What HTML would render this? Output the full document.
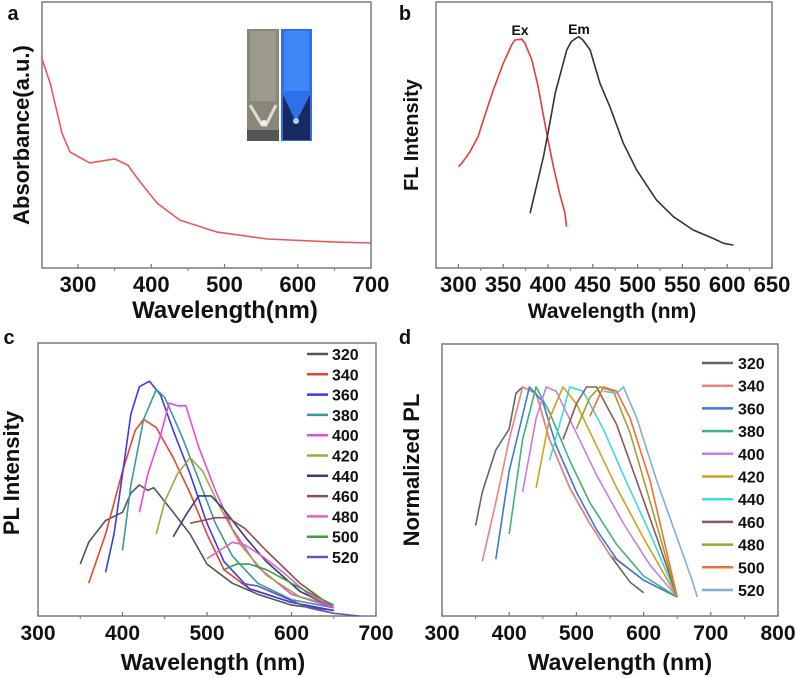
<!DOCTYPE html>
<html><head><meta charset="utf-8"><style>
html,body{margin:0;padding:0;background:#fff;}
svg{display:block;font-family:"Liberation Sans",Arial,sans-serif;font-weight:bold;}
</style></head><body>
<svg id="fig" width="797" height="678" viewBox="0 0 797 678" xmlns="http://www.w3.org/2000/svg"></svg>
<script>
// ---- Panel a data ----
const aWl  = [250,262,278,289,316,350,368,385,408,439,490,558,648,700];
const aAbs = [0.793,0.695,0.508,0.436,0.395,0.41,0.387,0.323,0.244,0.180,0.135,0.109,0.098,0.094];
const aTicks = [300,400,500,600,700];
// ---- Panel b data ----
const exWl  = [300,303.6,313,322,331.5,339,350,359.5,363,370.6,374,382,389,398.5,406,413,419,420.8];
const exInt = [0.381,0.393,0.437,0.494,0.594,0.669,0.769,0.839,0.857,0.860,0.847,0.782,0.682,0.506,0.381,0.281,0.206,0.155];
const emWl  = [380,387,395,402,408,413,421,426,434,439,447,458,469,484,499,521,540,562,584.5,596,607];
const emInt = [0.206,0.306,0.419,0.544,0.657,0.719,0.820,0.851,0.870,0.857,0.820,0.694,0.607,0.469,0.368,0.256,0.193,0.143,0.111,0.093,0.086];
const bTicks = [300,350,400,450,500,550,600,650];
// ---- Panel c data ----
const exLabels = ["320","340","360","380","400","420","440","460","480","500","520"];
const cWl = [
 [350,360,380,400,410,420,430,437,460,480,500,530,560,600,650],
 [360,380,400,415,425,440,460,480,500,520,550,600,650],
 [380,390,400,410,420,432,445,460,480,500,520,550,600,650],
 [400,410,425,440,450,470,490,510,530,560,600,650],
 [420,430,445,455,465,475,490,510,530,560,600,650],
 [440,450,465,480,495,515,540,570,610,650],
 [460,475,490,505,520,545,570,610,650],
 [480,495,510,525,545,570,610,650],
 [500,515,530,545,565,590,620,650],
 [520,535,550,570,600,630,650],
 [540,560,590,620,650,680]
];
const cInt = [
 [0.19,0.27,0.35,0.38,0.45,0.48,0.46,0.47,0.38,0.30,0.19,0.12,0.08,0.04,0.02],
 [0.12,0.30,0.53,0.68,0.72,0.69,0.58,0.45,0.30,0.17,0.10,0.05,0.02],
 [0.16,0.30,0.52,0.74,0.84,0.86,0.81,0.68,0.52,0.34,0.20,0.10,0.05,0.02],
 [0.24,0.48,0.72,0.83,0.80,0.66,0.50,0.34,0.22,0.12,0.06,0.03],
 [0.38,0.52,0.66,0.78,0.77,0.77,0.62,0.46,0.32,0.18,0.08,0.03],
 [0.30,0.42,0.52,0.58,0.53,0.40,0.26,0.15,0.07,0.04],
 [0.29,0.37,0.44,0.44,0.39,0.29,0.20,0.09,0.03],
 [0.34,0.35,0.36,0.36,0.32,0.24,0.12,0.03],
 [0.21,0.24,0.27,0.26,0.22,0.16,0.08,0.03],
 [0.17,0.19,0.19,0.17,0.12,0.07,0.04],
 [0.12,0.11,0.07,0.03,0.01,0.00]
];
const cColors = ["#555555","#e8452f","#3c3ce6","#3a9a9a","#e64ae6","#a3a345","#3c3c7c","#904c4c","#e060c4","#3ca03c","#5a5ab4"];
const cTicks = [300,400,500,600,700];
// ---- Panel d data ----
const dWl = [
 [350,360,380,400,410,420,440,460,490,520,550,580,600],
 [360,380,400,420,440,460,490,520,550,600,650],
 [380,400,430,450,470,500,530,560,600,650],
 [400,420,440,460,490,520,560,600,650],
 [420,440,455,470,500,530,570,610,650],
 [440,460,480,500,530,560,600,650],
 [460,480,490,510,540,570,610,650],
 [480,500,515,530,560,590,620,650],
 [500,520,535,555,580,610,650],
 [520,540,560,580,610,650],
 [540,560,570,590,620,650,670,680]
];
const dInt = [
 [0.34,0.50,0.70,0.80,0.97,1.0,0.97,0.75,0.52,0.35,0.20,0.07,0.02],
 [0.17,0.45,0.75,1.0,0.97,0.75,0.52,0.35,0.20,0.08,0.0],
 [0.18,0.60,1.0,0.93,0.72,0.50,0.32,0.18,0.08,0.0],
 [0.30,0.75,1.0,0.88,0.65,0.45,0.25,0.10,0.0],
 [0.50,0.85,1.0,0.98,0.78,0.58,0.35,0.15,0.0],
 [0.52,0.85,1.0,0.92,0.72,0.52,0.28,0.0],
 [0.65,0.88,1.0,0.98,0.80,0.58,0.30,0.0],
 [0.75,0.92,1.0,1.0,0.82,0.55,0.28,0.0],
 [0.80,0.95,1.0,0.98,0.78,0.45,0.0],
 [0.86,1.0,0.98,0.85,0.55,0.0],
 [0.98,0.97,1.0,0.85,0.55,0.28,0.10,0.0]
];
const dColors = ["#666666","#f08080","#3a7ad8","#40b080","#c080e0","#d0a020","#40d8d8","#8a5a5a","#a0a030","#f07030","#80b0d8"];
const dTicks = [300,400,500,600,700,800];

const NS="http://www.w3.org/2000/svg";
const svg=document.getElementById('fig');
function mk(tag,attrs,parent){const e=document.createElementNS(NS,tag);for(const k in attrs)e.setAttribute(k,attrs[k]);(parent||svg).appendChild(e);return e;}
function lin(d0,d1,r0,r1){return v=>r0+(v-d0)*(r1-r0)/(d1-d0);}

function frame(g,x0,y0,x1,y1,xs,ticks,minor,fs){
  const r=mk('rect',{x:x0,y:y0,width:x1-x0,height:y1-y0,fill:'none',stroke:'#7a7a7a','stroke-width':1.5},g);
  
  
  ticks.forEach(t=>{
    const x=xs(t);
    const l=mk('line',{x1:x,x2:x,y1:y1,y2:y1-4,stroke:'#777','stroke-width':1.2},g);
    
    
    const tx=mk('text',{x:x,y:y1+24,'text-anchor':'middle','font-size':fs,fill:'#111'},g);
    tx.textContent=t;
    
    
  });
  minor.forEach(t=>{
    const x=xs(t);
    const l=mk('line',{x1:x,x2:x,y1:y1,y2:y1+3,stroke:'#777','stroke-width':1},g);
    
    
  });
}
function series(g,wl,val,xs,ys,color,name){
  const p=mk('polyline',{points:wl.map((w,i)=>xs(w).toFixed(1)+','+ys(val[i]).toFixed(1)).join(' '),fill:'none',stroke:color,'stroke-width':1.6,'stroke-linejoin':'round'},g);
  
  
}
function label(g,txt,x,y,size,rot,name,anchor){
  const t=mk('text',{x:x,y:y,'font-size':size,fill:'#111','text-anchor':anchor||'middle'},g);
  if(rot)t.setAttribute('transform','rotate(-90 '+x+' '+y+')');
  t.textContent=txt;
  
  
}

// Panel a
const ga=mk('g',{});


const axs=lin(250,700,41.4,371), ays=lin(0,1,268,2);
frame(ga,42,2,371,268,axs,aTicks,[350,450,550,650],22);
series(ga,aWl,aAbs,axs,ays,'#e85a5a','absorbance-line');
label(ga,'a',13,20,20,false,'panel-label-a');
label(ga,'Wavelength(nm)',225,318,24,false,'x-axis-title');
label(ga,'Absorbance(a.u.)',29,135,22,true,'y-axis-title');
const ph=mk('g',{},ga);


mk('rect',{x:247,y:29,width:32,height:112,fill:'#8a8778'},ph);
mk('rect',{x:250,y:31,width:26,height:70,fill:'#9c9a8c'},ph);
mk('path',{d:'M250 105 L262 125 L266 125 L276 105',fill:'none',stroke:'#ddd','stroke-width':3},ph);
mk('circle',{cx:264,cy:123,r:3,fill:'#eee'},ph);
mk('rect',{x:247,y:130,width:32,height:11,fill:'#555'},ph);
mk('rect',{x:281,y:29,width:31,height:112,fill:'#2f6fe8'},ph);
mk('rect',{x:284,y:31,width:25,height:60,fill:'#3d86f5'},ph);
mk('path',{d:'M283 95 L296 122 L310 95 L310 140 L283 140Z',fill:'#1a2a60'},ph);
mk('circle',{cx:296,cy:121,r:3,fill:'#9fd0ff'},ph);

// Panel b
const gb=mk('g',{});


const bxs=lin(275,650,436,772), bys=lin(0,1,268,2);
frame(gb,436,2,772,268,bxs,bTicks,[325,375,425,475,525,575,625],22);
series(gb,exWl,exInt,bxs,bys,'#e83a3a','excitation-line');
series(gb,emWl,emInt,bxs,bys,'#333333','emission-line');
label(gb,'b',405,20,20,false,'panel-label-b');
label(gb,'Ex',520,35,14,false,'ex-label');
label(gb,'Em',579,34,14,false,'em-label');
label(gb,'Wavelength (nm)',612,318,21,false,'x-axis-title');
label(gb,'FL Intensity',418,135,20,true,'y-axis-title');

// Panel c
const gc=mk('g',{});


const cxs=lin(300,700,38,376), cys=lin(0,1,616,343);
frame(gc,38,343,376,616,cxs,cTicks,[350,450,550,650],21);
cWl.forEach((w,i)=>series(gc,w,cInt[i],cxs,cys,cColors[i],'pl-line-'+exLabels[i]));
exLabels.forEach((lab,i)=>{
  const y=354+i*20.3;
  const l=mk('line',{x1:307,x2:328,y1:y,y2:y,stroke:cColors[i],'stroke-width':2.5},gc);
  
  
  label(gc,lab,332,y+6,16,false,'legend-entry-'+lab,'start');
});
label(gc,'c',9,344,20,false,'panel-label-c');
label(gc,'Wavelength (nm)',213,670,23,false,'x-axis-title');
label(gc,'PL Intensity',19,473,22,true,'y-axis-title');

// Panel d
const gd=mk('g',{});


const dxs=lin(300,800,442,778), dys=lin(0,1,597,387);
frame(gd,442,344,778,616,dxs,dTicks,[350,450,550,650,750],21);
dWl.forEach((w,i)=>series(gd,w,dInt[i],dxs,dys,dColors[i],'norm-pl-line-'+exLabels[i]));
exLabels.forEach((lab,i)=>{
  const y=363+i*22.7;
  const l=mk('line',{x1:702,x2:733,y1:y,y2:y,stroke:dColors[i],'stroke-width':2.5},gd);
  
  
  label(gd,lab,738,y+6,16,false,'legend-entry-'+lab,'start');
});
label(gd,'d',405,344,20,false,'panel-label-d');
label(gd,'Wavelength (nm)',620,670,23,false,'x-axis-title');
label(gd,'Normalized PL',419,470,22,true,'y-axis-title');
</script>
</body></html>
